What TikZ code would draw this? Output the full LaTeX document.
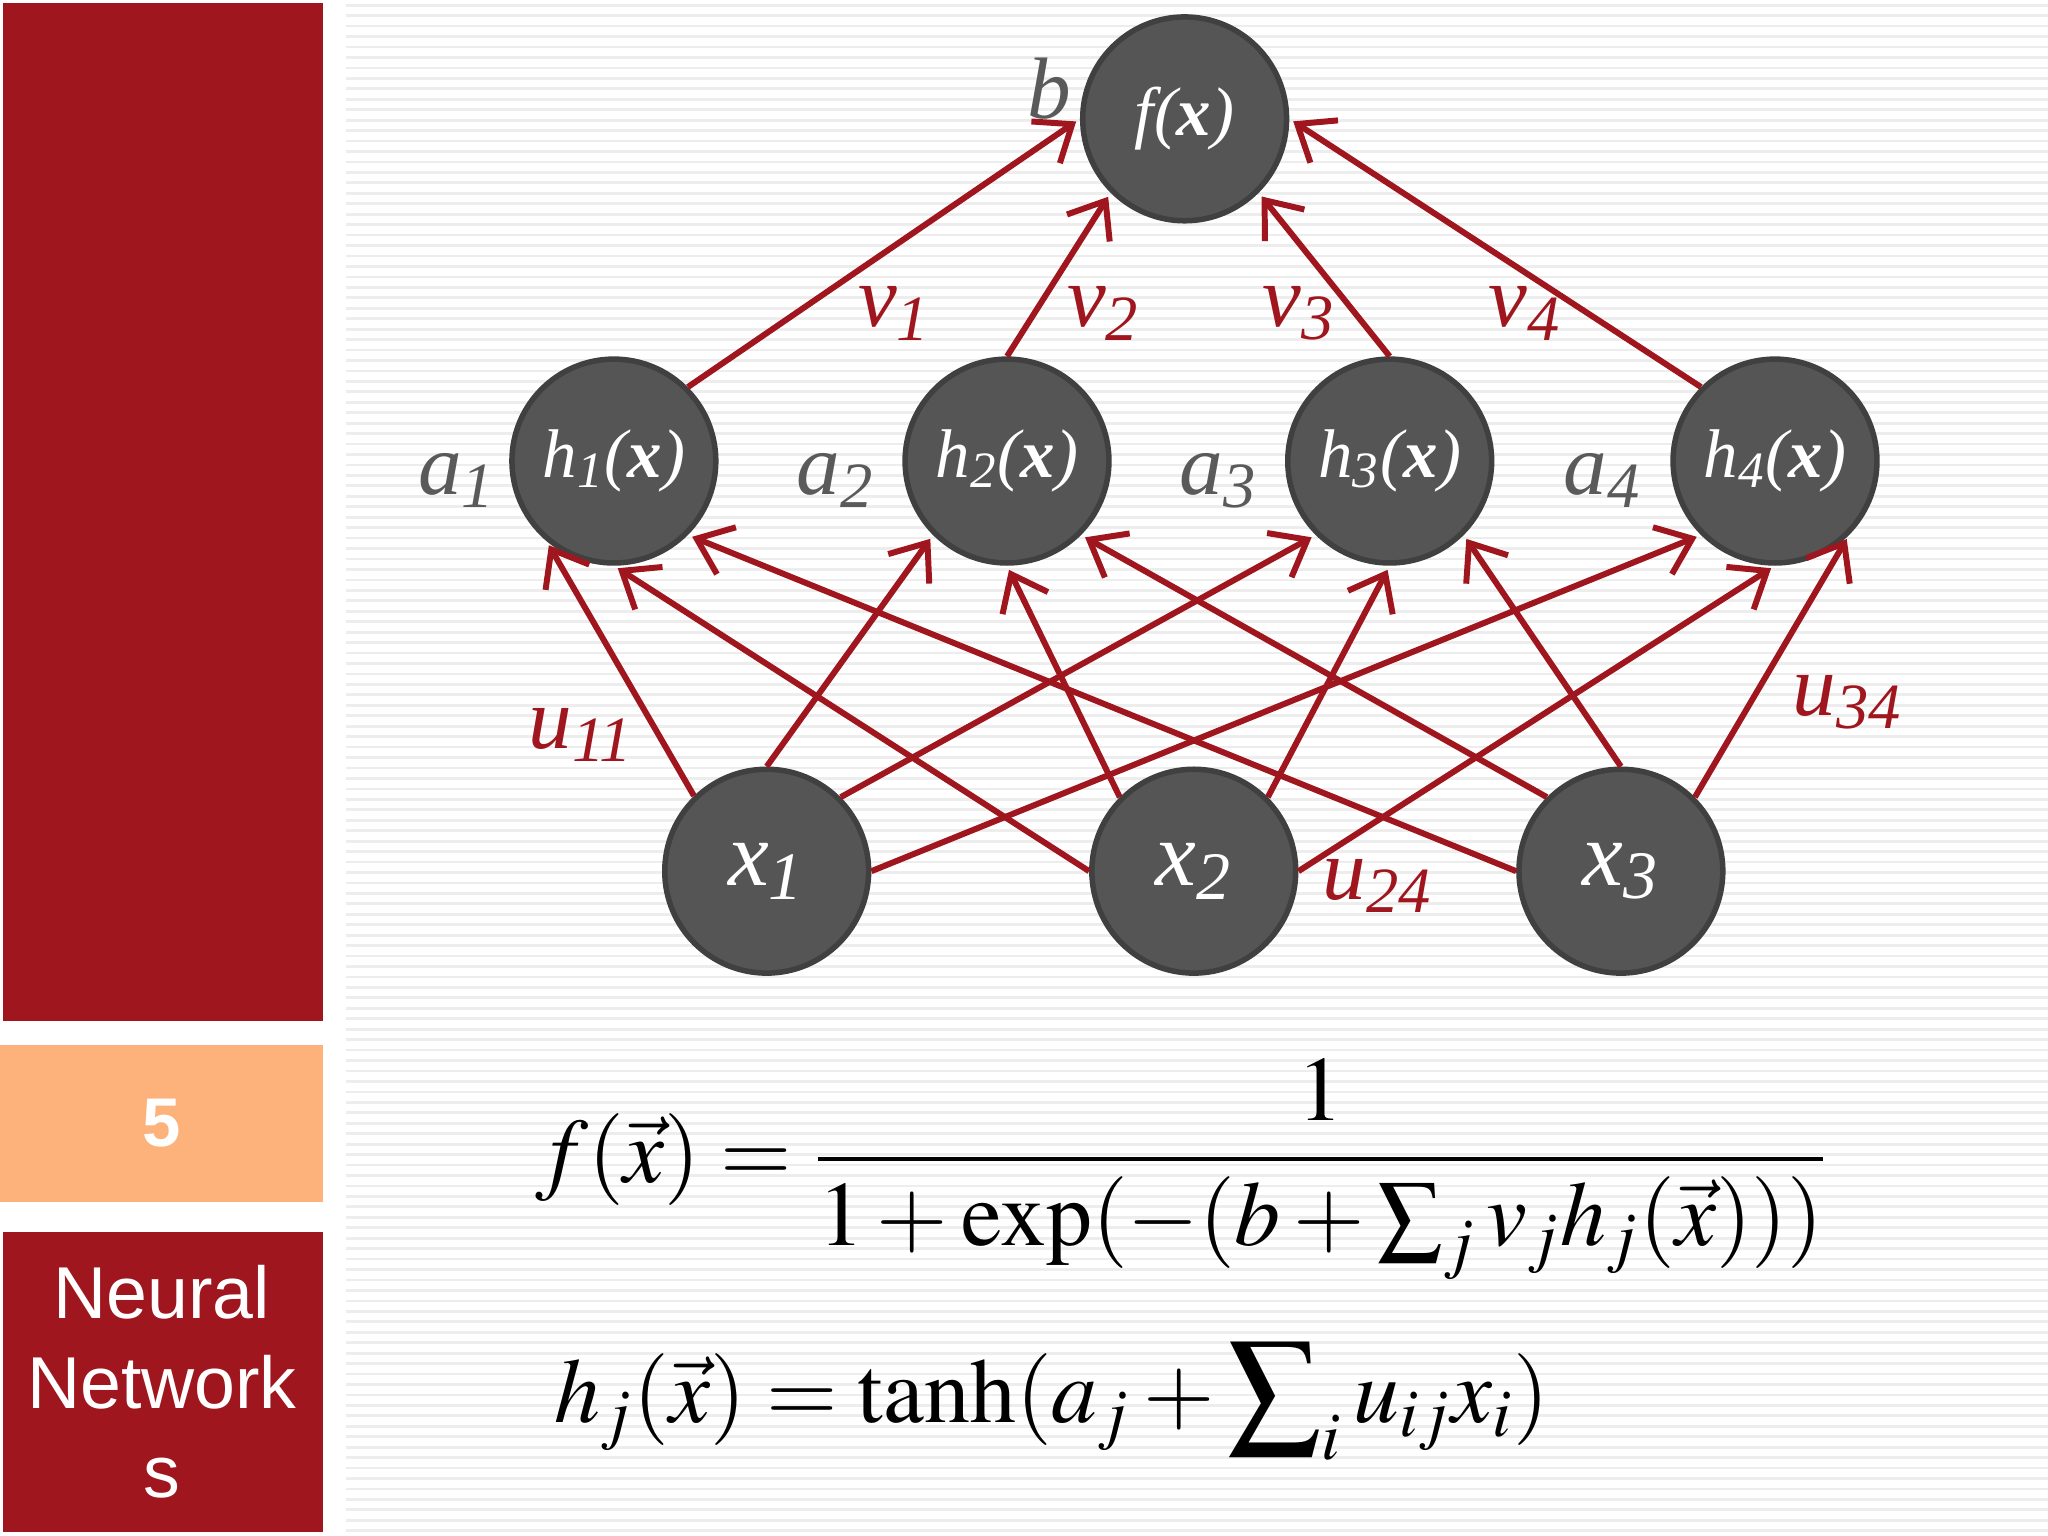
\documentclass[tikz,border=0pt]{standalone}
\usepackage{mathptmx}
\usepackage{fontspec}
\setmainfont{Liberation Serif}
\newfontfamily\arialf{Liberation Sans}
\usetikzlibrary{arrows.meta}
\definecolor{dred}{HTML}{A0161E}
\definecolor{orng}{HTML}{FDB27B}
\definecolor{nfill}{HTML}{555555}
\definecolor{lbl}{HTML}{5A5A5A}
\tikzset{
 neuron/.style={circle,fill=nfill,draw=black!75,line width=1.2pt,minimum size=1.56cm,inner sep=0pt,text=white,font=\fontsize{15}{17}\selectfont\itshape},
 conn/.style={draw=dred,line width=1.3pt,-{Straight Barb[length=7pt,width=11pt,line width=1.3pt]},shorten >=1pt},
 wl/.style={text=dred,font=\fontsize{19}{21}\selectfont\itshape},
 gl/.style={text=lbl,font=\fontsize{19}{21}\selectfont\itshape},
}
\begin{document}
\begin{tikzpicture}[x=0.01cm,y=-0.01cm]
\useasboundingbox (0,0) rectangle (1568,1176);
\fill[white] (0,0) rectangle (1568,1176);
\foreach \y in {4,12,...,1176} \draw[black!7,line width=0.6pt] (265,\y) -- (1568,\y);
\fill[dred] (2,2) rectangle (247,782);
\fill[orng] (0,800) rectangle (247,920);
\fill[dred] (2,943) rectangle (247,1173);
\node[text=white,font=\arialf\bfseries\fontsize{15}{17}\selectfont] (num) at (124,860) {5};
\node[text=white,font=\arialf\fontsize{16}{19.5}\selectfont,align=center] (title) at (124,1058) {Neural\\Network\\s};
\node[neuron] (f) at (907,91) {f(\textbf{x})};
\node[neuron] (h1) at (470,353) {h\textsubscript{1}(\textbf{x})};
\node[neuron] (h2) at (771,353) {h\textsubscript{2}(\textbf{x})};
\node[neuron] (h3) at (1064,353) {h\textsubscript{3}(\textbf{x})};
\node[neuron] (h4) at (1359,353) {h\textsubscript{4}(\textbf{x})};
\node[neuron,font=\fontsize{20}{22}\selectfont\itshape] (x1) at (587,667) {x\textsubscript{1}};
\node[neuron,font=\fontsize{20}{22}\selectfont\itshape] (x2) at (914,667) {x\textsubscript{2}};
\node[neuron,font=\fontsize{20}{22}\selectfont\itshape] (x3) at (1241,667) {x\textsubscript{3}};
% hidden -> output
\draw[conn] (h1.45) -- (f.180);
\draw[conn] (h2.90) -- (f.225);
\draw[conn] (h3.90) -- (f.315);
\draw[conn] (h4.135) -- (f.0);
% input -> hidden
\draw[conn] (x1.134) -- (h1.230);
\draw[conn] (x1.90) -- (h2.225);
\draw[conn] (x1.45) -- (h3.225);
\draw[conn] (x1.0) -- (h4.225);
\draw[conn] (x2.180) -- (h1.270);
\draw[conn] (x2.135) -- (h2.270);
\draw[conn] (x2.45) -- (h3.270);
\draw[conn] (x2.0) -- (h4.270);
\draw[conn] (x3.180) -- (h1.315);
\draw[conn] (x3.135) -- (h2.315);
\draw[conn] (x3.90) -- (h3.315);
\draw[conn] (x3.45) -- (h4.315);
\node[gl] (b) at (803,68) {b};
\node[wl] (v1) at (685,240) {v\textsubscript{1}};
\node[wl] (v2) at (845,240) {v\textsubscript{2}};
\node[wl] (v3) at (995,240) {v\textsubscript{3}};
\node[wl] (v4) at (1168,240) {v\textsubscript{4}};
\node[gl] (a1) at (350,368) {a\textsubscript{1}};
\node[gl] (a2) at (640,368) {a\textsubscript{2}};
\node[gl] (a3) at (933,368) {a\textsubscript{3}};
\node[gl] (a4) at (1227,368) {a\textsubscript{4}};
\node[wl] (u11) at (445,563) {u\textsubscript{11}};
\node[wl] (u24) at (1055,678) {u\textsubscript{24}};
\node[wl] (u34) at (1415,538) {u\textsubscript{34}};
\node[font=\fontsize{20}{24}\selectfont] (eq1) at (905,895) {$\displaystyle f(\vec x)=\frac{1}{1+\exp(-(b+\sum\nolimits_j v_j h_j(\vec x)))}$};
\node[font=\fontsize{20}{24}\selectfont,anchor=west] (eq2) at (412,1073) {$\displaystyle h_j(\vec x)=\tanh(a_j+\sum\nolimits_i u_{ij}x_i)$};
\end{tikzpicture}
\end{document}
